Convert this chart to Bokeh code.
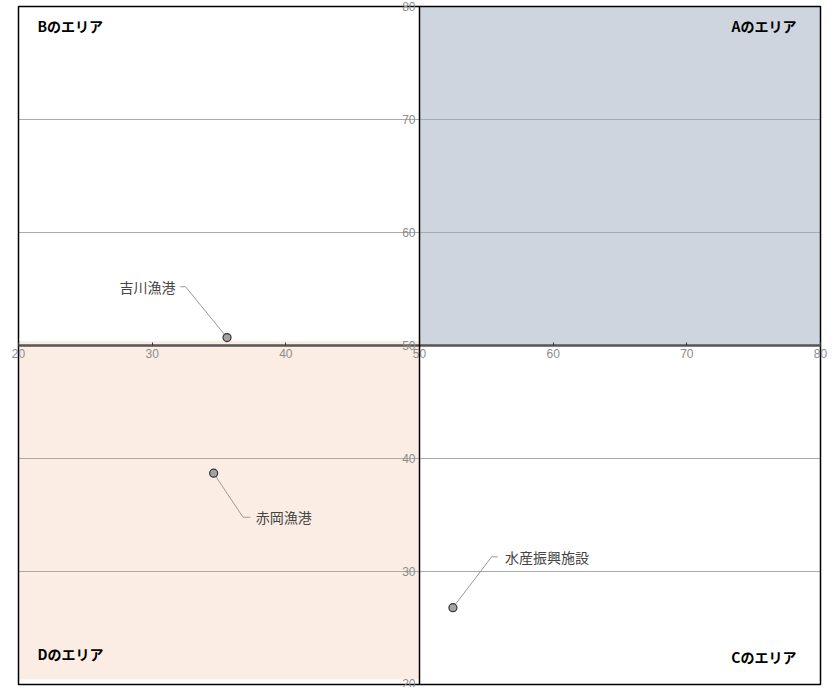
from bokeh.plotting import figure
from bokeh.models import LinearAxis, FixedTicker, Label, Range1d, ColumnDataSource
from bokeh.core.properties import value
from bokeh.embed import file_html
from bokeh.resources import INLINE

# ---- data ----
x_ticks = [20, 30, 40, 50, 60, 70, 80]
y_ticks = [20, 30, 40, 50, 60, 70, 80]
grid_values = [30, 40, 60, 70]
names = ["吉川漁港", "赤岡漁港", "水産振興施設"]
px = [35.6, 34.6, 52.5]
py = [50.7, 38.7, 26.8]
area_names = ["Aのエリア", "Bのエリア", "Cのエリア", "Dのエリア"]

# label placement (annotation geometry, data units)
elbow_x = [32.5, 36.8, 55.4]
elbow_y = [55.2, 34.8, 31.3]
end_x = [32.1, 37.35, 55.85]
label_x = [31.75, 37.75, 56.4]
label_align = ["right", "left", "left"]

FONT = "Noto Sans CJK JP"
TICK_FONT = "Liberation Sans"
TICK_COLOR = "#8c8c8c"

X0, X1, Y0, Y1 = 20, 80, 20, 80
MID = 50

# frame slightly larger than the data box so edge tick labels are not clipped
p = figure(width=832, height=687,
           x_range=Range1d(19.252, 80.748), y_range=Range1d(19.735, 80.531),
           x_axis_location=None, y_axis_location=None,
           output_backend="svg", toolbar_location=None,
           min_border_left=8, min_border_right=2, min_border_top=0, min_border_bottom=0)
p.outline_line_color = None
p.background_fill_color = "white"
p.xgrid.visible = False
p.ygrid.visible = False

# quadrant fills
p.quad(left=[MID], right=[X1], bottom=[MID], top=[Y1], fill_color="#cfd5df", line_color=None)
p.quad(left=[X0], right=[MID], bottom=[20.45], top=[50.4], fill_color="#fbede4", line_color=None)

# horizontal grid
p.segment(x0=[X0] * len(grid_values), x1=[X1] * len(grid_values),
          y0=grid_values, y1=grid_values, line_color="#aaaaaa", line_width=1)

# plot box border
p.quad(left=[X0], right=[X1], bottom=[Y0], top=[Y1], fill_color=None,
       line_color="black", line_width=1.5)

# axes crossing at 50
xa = LinearAxis(fixed_location=MID, ticker=FixedTicker(ticks=x_ticks), bounds=(X0, X1),
                axis_line_color="#555555", axis_line_width=2.5,
                major_tick_in=3, major_tick_out=0, major_tick_line_color="#333333",
                minor_tick_in=0, minor_tick_out=0,
                major_label_text_color=TICK_COLOR, major_label_text_font_size="12px",
                major_label_text_font=TICK_FONT, major_label_standoff=3)
p.add_layout(xa, "below")
ya = LinearAxis(fixed_location=MID, ticker=FixedTicker(ticks=y_ticks), bounds=(Y0, Y1),
                axis_line_color="black", axis_line_width=1.5,
                major_tick_in=0, major_tick_out=0,
                minor_tick_in=0, minor_tick_out=0,
                major_label_text_color=TICK_COLOR, major_label_text_font_size="12px",
                major_label_text_font=TICK_FONT, major_label_standoff=4)
p.add_layout(ya, "left")

# leader lines
xs = [[px[i], elbow_x[i], end_x[i]] for i in range(len(px))]
ys = [[py[i], elbow_y[i], elbow_y[i]] for i in range(len(px))]
p.multi_line(xs, ys, line_color="#999999", line_width=1)

# points
p.scatter(px, py, size=8, fill_color="#a3a3a3", line_color="#333333", line_width=1.2)

# point labels
src = ColumnDataSource(dict(x=label_x, y=elbow_y, text=names, align=label_align))
p.text(x="x", y="y", text="text", text_align="align", text_baseline="middle",
       source=src, text_font=value(FONT), text_font_size="14px", text_color="#444444")

# area labels (screen units from frame bottom-left)
area_pos = [(788, 662, "right"), (29, 662, "left"), (788, 31, "right"), (29, 34, "left")]
for name, (sx, sy, al) in zip(area_names, area_pos):
    p.add_layout(Label(x=sx, y=sy, x_units="screen", y_units="screen", text=name,
                       text_align=al, text_baseline="middle", text_font=FONT,
                       text_font_size="14px", text_font_style="bold", text_color="black"))

open("out.html", "w").write(file_html(p, INLINE))
